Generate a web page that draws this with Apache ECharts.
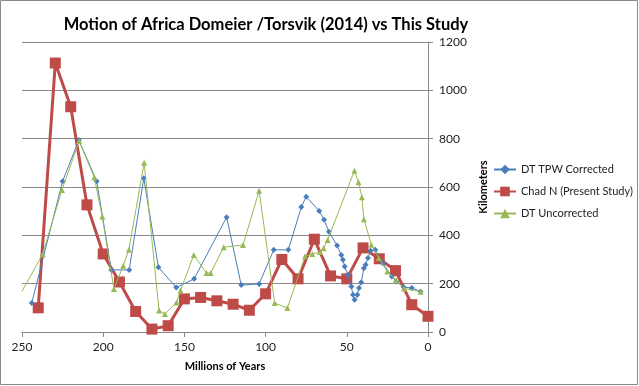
<!DOCTYPE html>
<html>
<head>
<meta charset="utf-8">
<script src="https://cdn.jsdelivr.net/npm/echarts@6/dist/echarts.min.js"></script>
<style>
html,body{margin:0;padding:0;background:#fff;}
#chart{width:639px;height:386px;}
</style>
</head>
<body>
<div id="chart"></div>
<script>
// ---- Data (ages in millions of years, distances in km) ----
const tpwAges   = [244,225,215,204,195,184,175,166,155,144,124,115,104,95,86,78,75,67,64,61,56,53.4,52.4,51.3,49.3,47.2,46.2,45.2,43.5,42.5,41.1,39.5,38.4,37,35.4,32.5,27.8,22.3,19.6,15,10,4.6];
const tpwValues = [120,624,794,624,257,257,636,268,184,220,475,194,199,340,340,517,560,501,464,415,358,319,299,271,237,188,154,133,154,182,206,264,278,306,336,340,285,230,209,186,182,168];

const chadAges   = [240,229.5,220,210,200,190,180,170,160,150,140,130,120,110,100,90,80,70,60,50,40,30,20,10,0];
const chadValues = [100,1113,932,526,323,207,85,12,26,137,143,129,115,90,158,300,220,384,232,220,348,303,254,113,65];

const uncAges   = [250,237.3,225.4,214.8,205.5,200.6,193.4,187.7,184.2,174.8,165.6,162,154.9,152.4,144.2,136.4,133.8,125.8,113.9,104,94.4,86.6,75.7,71.2,66.5,64.3,61.8,45.3,42.8,40.7,39.5,34.9,30.3,25.1,19.6,14.7,4.5];
const uncValues = [168,322,588,790,640,478,178,274,340,700,89,75,122,172,319,244,244,351,360,584,120,99,313,323,331,347,381,667,620,558,467,361,306,250,214,180,167];

const xTicks = [0,50,100,150,200,250];
const yTicks = [0,200,400,600,800,1000,1200];

const seriesNames = ['DT TPW Corrected','Chad N (Present Study)','DT Uncorrected'];
const colors = ['#4A7EBB','#BE4B48','#98B954'];

function pairs(ages, vals){ return ages.map((a,i)=>[a, vals[i]]); }

const uncData = pairs(uncAges, uncValues);
uncData[0] = {value: uncData[0], symbol: 'none'};

const font = 'Lato, "Open Sans", "Liberation Sans", sans-serif';
const chart = echarts.init(document.getElementById('chart'), null, {renderer:'canvas'});
chart.setOption({
  animation:false,
  backgroundColor:'#fff',
  title:{
    text:'Motion of Africa Domeier /Torsvik (2014) vs This Study',
    left:261, top:11, textAlign:'center',
    textStyle:{fontFamily:font, fontWeight:'bold', fontSize:16.5, color:'#000'}
  },
  graphic:[{type:'rect', shape:{x:0.5,y:0.5,width:637,height:384}, style:{fill:null, stroke:'#8a8a8a', lineWidth:1}, silent:true, z:-1}],
  legend:{
    orient:'vertical', left:488, top:159, itemGap:11, itemWidth:22, itemHeight:12,
    data:seriesNames,
    textStyle:{fontFamily:font, fontSize:11, color:'#222'}
  },
  grid:{left:22, right:211, top:42, bottom:54, containLabel:false},
  xAxis:{
    type:'value', inverse:true, min:xTicks[0], max:xTicks[xTicks.length-1], interval:50,
    name:'Millions of Years', nameLocation:'middle', nameGap:29,
    nameTextStyle:{fontFamily:font, fontWeight:'bold', fontSize:11, color:'#000'},
    axisLine:{show:true, onZero:false, lineStyle:{color:'#8a8a8a', width:1}},
    axisTick:{show:true, length:5, lineStyle:{color:'#8a8a8a'}},
    axisLabel:{fontFamily:font, fontSize:12, color:'#222', margin:9, formatter:v=>String(v)},
    splitLine:{show:false}
  },
  yAxis:{
    type:'value', position:'right', min:yTicks[0], max:yTicks[yTicks.length-1], interval:200,
    name:'Kilometers', nameLocation:'middle', nameGap:42, nameRotate:90,
    nameTextStyle:{fontFamily:font, fontWeight:'bold', fontSize:11, color:'#000'},
    axisLine:{show:true, lineStyle:{color:'#8a8a8a', width:1}},
    axisTick:{show:true, length:5, lineStyle:{color:'#8a8a8a'}},
    axisLabel:{fontFamily:font, fontSize:12, color:'#222', margin:11, formatter:v=>String(v)},
    splitLine:{show:true, lineStyle:{color:'#8a8a8a', width:1}}
  },
  series:[
    {name:seriesNames[0], type:'line', data:pairs(tpwAges,tpwValues),
     symbol:'diamond', symbolSize:6, color:colors[0],
     lineStyle:{width:1, color:colors[0]}, itemStyle:{color:colors[0]}, z:3},
    {name:seriesNames[1], type:'line', data:pairs(chadAges,chadValues),
     symbol:'rect', symbolSize:11, color:colors[1],
     lineStyle:{width:3, color:colors[1]}, itemStyle:{color:colors[1]}, z:2},
    {name:seriesNames[2], type:'line', data:uncData,
     symbol:'triangle', symbolSize:6, color:colors[2],
     lineStyle:{width:1, color:colors[2]}, itemStyle:{color:colors[2]}, z:4}
  ]
});
</script>
</body>
</html>
